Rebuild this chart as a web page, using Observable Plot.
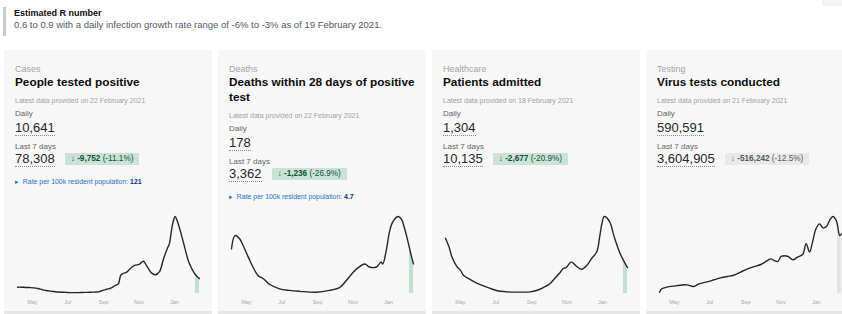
<!DOCTYPE html>
<html>
<head>
<meta charset="utf-8">
<script src="https://cdn.jsdelivr.net/npm/d3@7"></script>
<script src="https://cdn.jsdelivr.net/npm/@observablehq/plot@0.6"></script>
<style>
  html, body { margin: 0; padding: 0; background: #fff; }
  body { width: 842px; height: 314px; overflow: hidden; position: relative;
         font-family: "Liberation Sans", Arial, sans-serif; }
  .rbar { position: absolute; left: 3px; top: 7px; width: 3px; height: 29px; background: #c9c9c9; }
  .rtitle { position: absolute; left: 14px; top: 7px; font-size: 9px; line-height: 12px; font-weight: bold; color: #0b0c0c; white-space: nowrap; }
  .rtext { position: absolute; left: 14px; top: 19px; font-size: 9.5px; line-height: 12px; color: #505a5f; white-space: nowrap; }
  .corner { position: absolute; left: 822px; top: 0; width: 20px; height: 6px; background: #f4f4f4; }
  .card { position: absolute; top: 50px; width: 208px; height: 261px; background: #f7f7f7;
          border-bottom: 3px solid #e6e6e6; box-sizing: content-box; padding: 0; }
  .inner { padding: 13px 6px 0 11px; }
  .cat { font-size: 9px; line-height: 12px; color: #a3a3a3; }
  .title { font-size: 11.8px; line-height: 15px; font-weight: bold; color: #0b0c0c; }
  .latest { font-size: 7px; line-height: 10px; color: #a0a0a0; margin-top: 6px; white-space: nowrap; }
  .lbl { font-size: 8px; line-height: 11px; color: #636363; margin-top: 1.5px; }
  .l7 { margin-top: 6px; }
  .num { font-size: 13px; line-height: 15px; margin-top: 1px; color: #262626; }
  .num span, .row .n { border-bottom: 1px dotted #8a8a8a; }
  .row { height: 15px; line-height: 15px; display: flex; align-items: center; font-size: 13px; color: #262626; }
  .badge { margin-left: 10px; font-size: 8.2px; line-height: 12px; height: 12px; padding: 0 6px; white-space: nowrap; }
  .badge.good { background: #cce2d8; color: #005a30; }
  .badge.neutral { background: #e9e9e9; color: #505a5f; }
  .rate { margin-top: 10px; font-size: 6.9px; line-height: 10px; color: #1d70b8; white-space: nowrap; }
  .rate b { color: #003078; }
  .chart { position: absolute; left: 0; top: 158px; }
</style>
</head>
<body>
<div class="rbar"></div>
<div class="rtitle">Estimated R number</div>
<div class="rtext">0.6 to 0.9 with a daily infection growth rate range of -6% to -3% as of 19 February 2021.</div>
<div class="corner"></div>
<script>
// ---- Card texts ----
const categories = ["Cases", "Deaths", "Healthcare", "Testing"];
const titles = ["People tested positive", "Deaths within 28 days of positive test", "Patients admitted", "Virus tests conducted"];
const updated = ["22 February 2021", "22 February 2021", "18 February 2021", "21 February 2021"];
const dailyValues = ["10,641", "178", "1,304", "590,591"];
const weeklyValues = ["78,308", "3,362", "10,135", "3,604,905"];
const changeValues = ["-9,752", "-1,236", "-2,677", "-516,242"];
const changePercents = ["-11.1%", "-26.9%", "-20.9%", "-12.5%"];
const changeKinds = ["good", "good", "good", "neutral"];
const rateValues = ["121", "4.7", null, null];

// ---- Axis ----
const domainStart = "2020-04-14";
const domainEnd = "2021-02-22";
const recentStart = "2021-02-15";
const tickDates = ["2020-05-01", "2020-07-01", "2020-09-01", "2020-11-01", "2021-01-01"];
const tickLabels = ["May", "Jul", "Sep", "Nov", "Jan"];

// ---- Series (7-day averages) ----
const casesDates = ["2020-04-14","2020-04-21","2020-04-28","2020-05-05","2020-05-12","2020-05-19","2020-05-26","2020-06-02","2020-06-09","2020-06-16","2020-06-23","2020-06-30","2020-07-07","2020-07-14","2020-07-21","2020-07-28","2020-08-04","2020-08-11","2020-08-18","2020-08-25","2020-09-01","2020-09-08","2020-09-15","2020-09-22","2020-09-29","2020-10-05","2020-10-09","2020-10-13","2020-10-20","2020-10-27","2020-11-03","2020-11-10","2020-11-17","2020-11-24","2020-12-01","2020-12-08","2020-12-15","2020-12-22","2020-12-29","2021-01-01","2021-01-05","2021-01-08","2021-01-11","2021-01-14","2021-01-19","2021-01-25","2021-02-03","2021-02-09","2021-02-15","2021-02-22"];
const casesValues = [4900,4900,4700,4600,4400,3900,3100,2300,1800,1500,1200,1000,850,700,650,700,800,900,1000,1100,1300,2400,3300,4200,6000,7500,14000,15500,16800,20000,22000,22500,25000,20600,16000,14500,17000,27000,35500,38500,50000,56500,59700,57000,50000,40000,25000,19000,14500,11500];

const deathsDates = ["2020-04-14","2020-04-20","2020-04-28","2020-05-04","2020-05-13","2020-05-21","2020-05-30","2020-06-08","2020-06-19","2020-07-06","2020-07-23","2020-08-10","2020-09-07","2020-09-30","2020-10-18","2020-10-29","2020-11-10","2020-11-18","2020-11-30","2020-12-08","2020-12-20","2020-12-28","2020-12-31","2021-01-06","2021-01-12","2021-01-17","2021-01-26","2021-02-01","2021-02-06","2021-02-11","2021-02-15","2021-02-18","2021-02-22"];
const deathsValues = [725,940,890,780,590,430,290,240,146,76,50,35,20,50,100,210,345,415,480,430,430,510,480,700,1020,1160,1250,1210,1075,900,740,620,480];

const admissionsDates = ["2020-04-14","2020-04-20","2020-04-25","2020-05-04","2020-05-10","2020-05-15","2020-05-27","2020-06-07","2020-06-24","2020-07-11","2020-07-29","2020-08-15","2020-09-07","2020-09-18","2020-09-29","2020-10-11","2020-10-19","2020-10-28","2020-11-03","2020-11-08","2020-11-17","2020-11-26","2020-12-05","2020-12-14","2020-12-22","2020-12-31","2021-01-05","2021-01-09","2021-01-13","2021-01-22","2021-01-30","2021-02-08","2021-02-15","2021-02-22"];
const admissionsValues = [2840,2400,1890,1370,1190,935,710,535,330,155,85,70,85,155,295,500,760,1055,1280,1330,1625,1400,1245,1450,1800,2145,2925,3615,3960,3700,2925,2145,1700,1330];

const testsDates = ["2020-04-14","2020-04-18","2020-04-27","2020-05-08","2020-05-20","2020-05-31","2020-06-12","2020-06-21","2020-07-05","2020-07-17","2020-07-28","2020-08-09","2020-08-20","2020-09-01","2020-09-13","2020-09-24","2020-10-06","2020-10-17","2020-10-23","2020-10-29","2020-11-04","2020-11-10","2020-11-21","2020-11-30","2020-12-08","2020-12-17","2020-12-23","2020-12-29","2021-01-03","2021-01-09","2021-01-15","2021-01-21","2021-01-27","2021-02-02","2021-02-07","2021-02-13","2021-02-15","2021-02-19","2021-02-22"];
const testsValues = [11000,39000,53000,61000,69000,72000,58000,80000,97000,114000,130000,141000,152000,177000,205000,224000,241000,274000,288000,274000,266000,308000,310000,280000,302000,324000,413000,344000,427000,538000,579000,546000,557000,612000,640000,607000,570000,482000,496000];

const seriesDates = [casesDates, deathsDates, admissionsDates, testsDates];
const seriesValues = [casesValues, deathsValues, admissionsValues, testsValues];
const shadeColors = ["#c2e0d1", "#c2e0d1", "#c2e0d1", "#e3e3e3"];

const parse = s => new Date(s + "T00:00:00Z");
const cardLefts = [4, 218, 432, 646];
const tickMap = new Map(tickDates.map((t, k) => [+parse(t), tickLabels[k]]));

categories.forEach((cat, i) => {
  const card = document.createElement("div");
  card.className = "card";
  card.style.left = cardLefts[i] + "px";
  const inner = document.createElement("div");
  inner.className = "inner";
  let html = `<div class="cat">${cat}</div>
    <div class="title">${titles[i]}</div>
    <div class="latest">Latest data provided on ${updated[i]}</div>
    <div class="lbl">Daily</div>
    <div class="num"><span>${dailyValues[i]}</span></div>
    <div class="lbl l7">Last 7 days</div>
    <div class="row"><span class="n">${weeklyValues[i]}</span><span class="badge ${changeKinds[i]}">↓ <b>${changeValues[i]}</b> (${changePercents[i]})</span></div>`;
  if (rateValues[i]) html += `<div class="rate">▸&nbsp; Rate per 100k resident population: <b>${rateValues[i]}</b></div>`;
  inner.innerHTML = html;
  card.appendChild(inner);

  const data = seriesDates[i].map((d, k) => ({date: parse(d), value: seriesValues[i][k]}));
  const recent = data.filter(d => d.date >= parse(recentStart));
  const chart = Plot.plot({
    width: 208, height: 100,
    marginTop: 8, marginBottom: 15, marginLeft: 13, marginRight: 13,
    x: {type: "utc", domain: [parse(domainStart), parse(domainEnd)]},
    y: {domain: [0, d3.max(seriesValues[i])], axis: null},
    style: {background: "transparent", fontFamily: "Liberation Sans, Arial, sans-serif", overflow: "visible"},
    marks: [
      Plot.areaY(recent, {x: "date", y: "value", fill: shadeColors[i], curve: "catmull-rom"}),
      Plot.lineY(data, {x: "date", y: "value", stroke: "#262626", strokeWidth: 1.4, curve: "catmull-rom"}),
      Plot.axisX({ticks: tickDates.map(parse), tickFormat: d => tickMap.get(+d), tickSize: 0, tickPadding: 7, fontSize: 5.5, fill: "#a8a8a8", dx: 5})
    ]
  });
  const wrap = document.createElement("div");
  wrap.className = "chart";
  wrap.appendChild(chart);
  card.appendChild(wrap);
  document.body.appendChild(card);
});
</script>
</body>
</html>
